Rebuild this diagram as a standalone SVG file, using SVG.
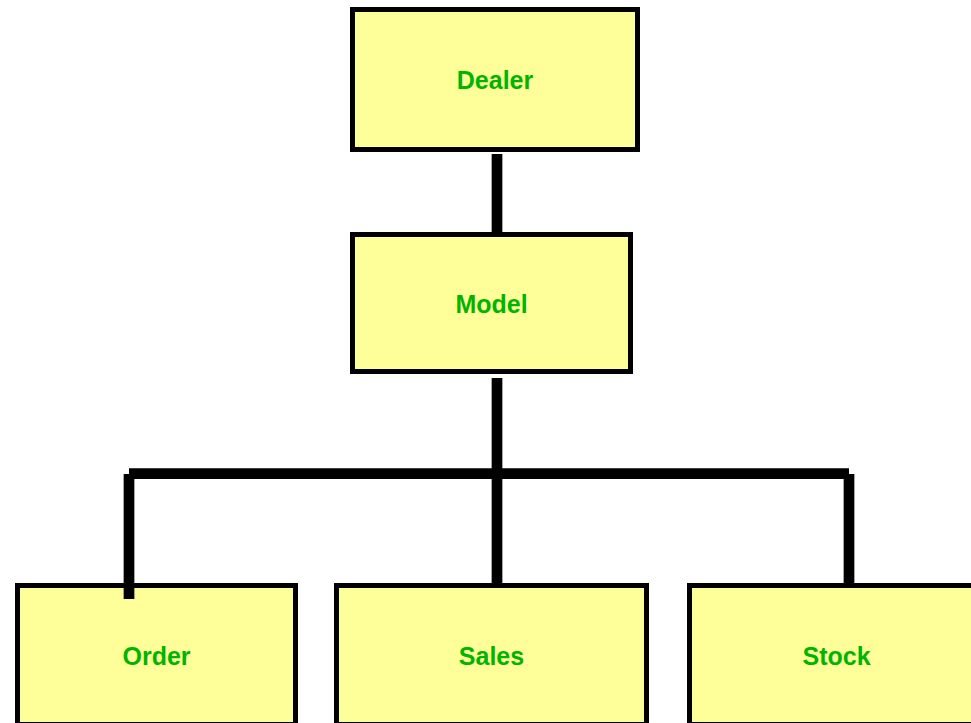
<svg xmlns="http://www.w3.org/2000/svg" width="971" height="723" viewBox="0 0 971 723">
  <style>
    .box { fill: #ffff99; stroke: #000000; stroke-width: 5; }
    .label { font-family: "Liberation Sans", Arial, sans-serif; font-weight: bold; font-size: 25px; fill: #00b400; text-anchor: middle; }
    .link { stroke: #000000; stroke-width: 10.7; fill: none; stroke-linecap: butt; }
  </style>
  <rect width="971" height="723" fill="#ffffff"/>

  <!-- connectors -->
  <g id="connectors">
    <line class="link" x1="497" y1="154" x2="497" y2="232"/>
    <line class="link" x1="497" y1="378" x2="497" y2="583"/>
    <line class="link" x1="129" y1="473.7" x2="849" y2="473.7"/>
    <line class="link" x1="129" y1="474" x2="129" y2="599"/>
    <line class="link" x1="849" y1="474" x2="849" y2="583"/>
  </g>

  <g id="dealer">
    <rect class="box" x="352.5" y="9.5" width="285" height="140"/>
    <text class="label" x="495" y="89">Dealer</text>
  </g>

  <g id="model">
    <rect class="box" x="352.5" y="234.5" width="278" height="137"/>
    <text class="label" x="491.5" y="313">Model</text>
  </g>

  <g id="order">
    <rect class="box" x="17.5" y="585.5" width="278" height="139"/>
    <text class="label" x="156.5" y="665">Order</text>
  </g>

  <g id="sales">
    <rect class="box" x="336.5" y="585.5" width="310" height="139"/>
    <text class="label" x="491.5" y="665">Sales</text>
  </g>

  <g id="stock">
    <rect class="box" x="689.5" y="585.5" width="294" height="139"/>
    <text class="label" x="836.5" y="665">Stock</text>
  </g>

  <!-- the Order drop sits over its box edge -->
  <line class="link" x1="129" y1="583" x2="129" y2="599"/>
</svg>
